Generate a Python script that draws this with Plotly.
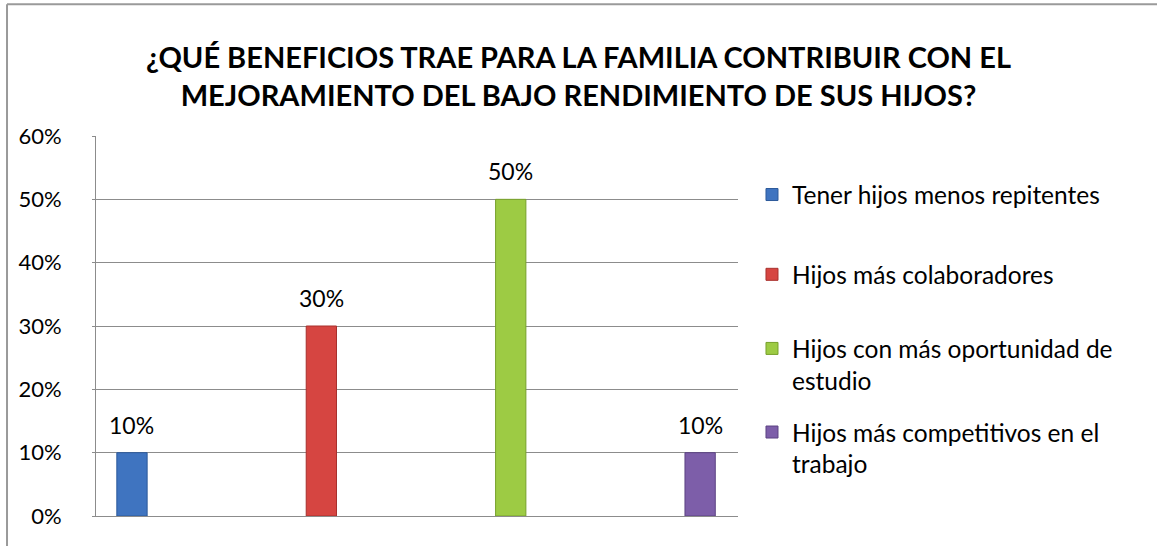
import plotly.graph_objects as go

# datos
categorias = ["Tener hijos menos repitentes",
              "Hijos más colaboradores",
              "Hijos con más oportunidad de<br>estudio",
              "Hijos más competitivos en el<br>trabajo"]
valores = [0.10, 0.30, 0.50, 0.10]
colores = ["#3f74c0", "#d64541", "#9dcb44", "#7d5ea9"]
bordes = ["#2c5a9a", "#a8302d", "#77a02c", "#5c4383"]
ticks_y = [0, 0.1, 0.2, 0.3, 0.4, 0.5, 0.6]

FUENTE = "Lato"
# posición vertical (paper) de cada entrada de la leyenda
leyenda_y = [0.905, 0.695, 0.50, 0.28]

fig = go.Figure()
for i in range(len(categorias)):
    nombre_ley = "legend" if i == 0 else f"legend{i + 1}"
    fig.add_trace(go.Bar(
        x=[i], y=[valores[i]], name=categorias[i],
        legend=nombre_ley,
        width=0.16,
        marker=dict(color=colores[i], line=dict(color=bordes[i], width=1)),
        hoverinfo="skip",
    ))
    fig.add_annotation(x=i, y=valores[i], text=f"{valores[i]:.0%}",
                       showarrow=False, yanchor="middle", yshift=28,
                       font=dict(size=23, color="#000", family=FUENTE))

leyendas = {}
for i, yy in enumerate(leyenda_y):
    nombre_ley = "legend" if i == 0 else f"legend{i + 1}"
    leyendas[nombre_ley] = dict(x=1.0218, xanchor="left", y=yy, yanchor="top",
                                valign="top", bgcolor="rgba(0,0,0,0)",
                                font=dict(size=24.5, family=FUENTE, color="#000"))

# marco exterior del gráfico (solo arriba e izquierda visibles)
fig.add_shape(type="line", xref="paper", yref="paper", x0=-0.1386, x1=1.9, y0=1.347, y1=1.347,
              line=dict(color="#9a9a9a", width=2))
fig.add_shape(type="line", xref="paper", yref="paper", x0=-0.1386, x1=-0.1386, y0=1.347, y1=-0.2,
              line=dict(color="#9a9a9a", width=2))

fig.update_layout(
    width=1157, height=546,
    margin=dict(l=96, r=419, t=136, b=30),
    paper_bgcolor="white", plot_bgcolor="white",
    barmode="overlay",
    title=dict(text="¿QUÉ BENEFICIOS TRAE PARA LA FAMILIA CONTRIBUIR CON EL<br>MEJORAMIENTO DEL BAJO RENDIMIENTO DE SUS HIJOS?",
               x=0.5, xref="container", xanchor="center", y=0.875, yanchor="middle",
               font=dict(size=29, color="#000", family=FUENTE, weight="bold")),
    font=dict(family=FUENTE, size=24, color="#000"),
    showlegend=True,
    **leyendas,
    xaxis=dict(range=[-0.19, 3.2], showticklabels=False, showgrid=False,
               showline=True, linecolor="#8c8c8c", linewidth=1, zeroline=False, fixedrange=True),
    yaxis=dict(range=[0, 0.6], tickvals=ticks_y, tickformat=".0%",
               showgrid=True, gridcolor="#8c8c8c", gridwidth=1,
               showline=True, linecolor="#8c8c8c", linewidth=1,
               ticks="outside", ticklen=3, tickcolor="#8c8c8c",
               ticklabelstandoff=26, zeroline=False,
               tickfont=dict(size=22, family=FUENTE)),
)

fig.write_html("out.html", config={"displayModeBar": False},
               post_script="document.body.style.margin='0px';")
